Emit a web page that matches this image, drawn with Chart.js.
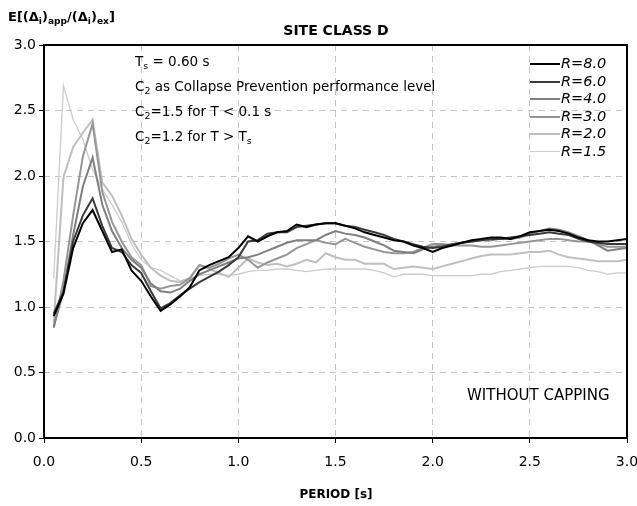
<!DOCTYPE html>
<html><head><meta charset="utf-8">
<script src="https://cdn.jsdelivr.net/npm/chart.js@4"></script>
<style>
html,body{margin:0;padding:0;background:#fff;}
#wrap{position:relative;width:637px;height:506px;font-family:"DejaVu Sans",sans-serif;color:#000;}
canvas{position:absolute;left:0;top:0;}
.ov{position:absolute;white-space:nowrap;line-height:1;}
sub{font-size:70%;vertical-align:-0.3em;line-height:0;}
.b{font-weight:bold;}
#ann div{position:absolute;left:0;white-space:nowrap;font-size:13.5px;}
#leg .row{position:absolute;left:0;height:14px;white-space:nowrap;}
#leg .sw{position:absolute;left:0;top:7px;width:30px;}
#leg .tx{position:absolute;left:31px;top:0;font-style:italic;font-size:14.5px;}
</style></head><body>
<div id="wrap">
<canvas id="c" width="637" height="506"></canvas>
<div class="ov b" style="left:8px;top:10px;font-size:13px;">E[(Δ<sub>i</sub>)<sub>app</sub>/(Δ<sub>i</sub>)<sub>ex</sub>]</div>
<div class="ov b" style="left:0;width:672px;text-align:center;top:23px;font-size:14px;">SITE CLASS D</div>
<div class="ov b" style="left:0;width:672px;text-align:center;top:488px;font-size:12px;">PERIOD [s]</div>
<div class="ov" style="left:467px;top:388px;font-size:15px;">WITHOUT CAPPING</div>
<div id="ann" class="ov" style="left:135px;top:0;">
  <div style="top:55px;">T<sub>s</sub> = 0.60 s</div>
  <div style="top:80px;">C<sub>2</sub> as Collapse Prevention performance level</div>
  <div style="top:105px;">C<sub>2</sub>=1.5 for T &lt; 0.1 s</div>
  <div style="top:130px;">C<sub>2</sub>=1.2 for T &gt; T<sub>s</sub></div>
</div>
<div id="leg" class="ov" style="left:530px;top:0;"></div>
</div>
<script>
const periods = [0.05,0.10,0.15,0.20,0.25,0.30,0.35,0.40,0.45,0.50,0.55,0.60,
 0.65,0.70,0.75,0.80,0.85,0.90,0.95,1.00,1.05,1.10,1.15,1.20,
 1.25,1.30,1.35,1.40,1.45,1.50,1.55,1.60,1.65,1.70,1.75,1.80,
 1.85,1.90,1.95,2.00,2.05,2.10,2.15,2.20,2.25,2.30,2.35,2.40,
 2.45,2.50,2.55,2.60,2.65,2.70,2.75,2.80,2.85,2.90,2.95,3.00];
const seriesNames = ["R=8.0","R=6.0","R=4.0","R=3.0","R=2.0","R=1.5"];
const r80 = [0.93,1.10,1.45,1.64,1.74,1.58,1.42,1.44,1.28,1.20,1.08,0.97,
 1.02,1.08,1.15,1.28,1.32,1.35,1.38,1.45,1.54,1.50,1.54,1.57,
 1.58,1.63,1.61,1.63,1.64,1.64,1.62,1.60,1.57,1.55,1.53,1.51,
 1.50,1.47,1.45,1.42,1.45,1.47,1.49,1.51,1.52,1.53,1.53,1.52,
 1.54,1.57,1.58,1.59,1.58,1.56,1.53,1.51,1.50,1.50,1.51,1.52];
const r60 = [0.95,1.12,1.50,1.70,1.83,1.62,1.45,1.42,1.32,1.26,1.12,0.99,
 1.03,1.09,1.14,1.19,1.23,1.27,1.32,1.38,1.50,1.51,1.56,1.57,
 1.57,1.61,1.62,1.63,1.64,1.64,1.62,1.61,1.59,1.57,1.55,1.52,
 1.50,1.48,1.46,1.45,1.46,1.48,1.49,1.50,1.51,1.52,1.52,1.53,
 1.54,1.55,1.56,1.57,1.56,1.55,1.52,1.50,1.49,1.48,1.48,1.48];
const r40 = [0.85,1.12,1.55,1.92,2.14,1.78,1.58,1.45,1.36,1.30,1.18,1.12,
 1.11,1.14,1.20,1.25,1.28,1.31,1.34,1.37,1.38,1.40,1.43,1.46,
 1.49,1.51,1.51,1.51,1.55,1.58,1.56,1.55,1.53,1.50,1.47,1.43,
 1.42,1.41,1.44,1.46,1.47,1.48,1.49,1.50,1.51,1.51,1.52,1.52,
 1.53,1.56,1.58,1.60,1.59,1.57,1.54,1.51,1.47,1.43,1.44,1.45];
const r30 = [0.84,1.20,1.70,2.15,2.40,1.88,1.65,1.50,1.38,1.32,1.16,1.14,
 1.16,1.17,1.22,1.32,1.30,1.33,1.37,1.40,1.36,1.30,1.34,1.37,
 1.40,1.45,1.48,1.51,1.49,1.48,1.52,1.49,1.46,1.44,1.42,1.41,
 1.41,1.42,1.45,1.48,1.48,1.47,1.47,1.47,1.46,1.46,1.47,1.48,
 1.49,1.50,1.51,1.52,1.52,1.51,1.50,1.50,1.48,1.46,1.46,1.46];
const r20 = [0.88,1.99,2.22,2.33,2.43,1.95,1.85,1.70,1.52,1.40,1.30,1.24,
 1.20,1.19,1.22,1.32,1.29,1.26,1.23,1.30,1.37,1.34,1.32,1.33,
 1.31,1.33,1.36,1.34,1.41,1.38,1.36,1.36,1.33,1.33,1.33,1.29,
 1.30,1.31,1.30,1.29,1.31,1.33,1.35,1.37,1.39,1.40,1.40,1.40,
 1.41,1.42,1.42,1.43,1.40,1.38,1.37,1.36,1.35,1.35,1.35,1.36];
const r15 = [1.22,2.69,2.43,2.28,2.05,1.90,1.78,1.65,1.48,1.36,1.30,1.28,
 1.24,1.20,1.22,1.24,1.25,1.25,1.24,1.25,1.27,1.28,1.28,1.29,
 1.29,1.28,1.27,1.28,1.29,1.29,1.29,1.29,1.29,1.28,1.26,1.23,
 1.25,1.25,1.25,1.24,1.24,1.24,1.24,1.24,1.25,1.25,1.27,1.28,
 1.29,1.30,1.31,1.31,1.31,1.31,1.30,1.28,1.27,1.25,1.26,1.26];
const xTicks = ["0.0","0.5","1.0","1.5","2.0","2.5","3.0"];
const yTicks = ["0.0","0.5","1.0","1.5","2.0","2.5","3.0"];

const values = [r80, r60, r40, r30, r20, r15];
const colors = ["#000000","#3a3a3a","#7f7f7f","#969696","#bfbfbf","#cccccc"];
const widths = [2,2,2,2,2,1.3];

const datasets = values.map((arr, i) => ({
  label: seriesNames[i],
  data: arr.map((v, j) => ({x: periods[j], y: v})),
  borderColor: colors[i],
  borderWidth: widths[i],
  pointRadius: 0,
  tension: 0,
  fill: false
}));

const frame = {
  id: 'frame',
  afterDatasetsDraw(c) {
    const a = c.chartArea, g = c.ctx;
    g.save();
    g.strokeStyle = '#000';
    g.lineWidth = 2;
    g.strokeRect(a.left, a.top, a.right - a.left, a.bottom - a.top);
    g.restore();
  }
};

const tickFont = {family: 'DejaVu Sans', size: 14};
new Chart(document.getElementById('c'), {
  type: 'line',
  data: {datasets},
  options: {
    responsive: false,
    animation: false,
    devicePixelRatio: 1,
    layout: {padding: {top: 45, right: 10, left: 0, bottom: 0}},
    plugins: {legend: {display: false}, tooltip: {enabled: false}},
    scales: {
      x: {
        type: 'linear', min: 0, max: 3,
        ticks: {stepSize: 0.5, color: '#000', font: tickFont, padding: 11, maxRotation: 0,
          callback: (v) => xTicks[Math.round(v * 2)]},
        grid: {color: '#c4c4c4', tickColor: '#000', tickLength: 5, tickBorderDash: [], lineWidth: 1},
        border: {display: false, dash: [6, 5]},
        afterFit: (s) => { s.height = 68; s.paddingRight = 0; s.paddingLeft = 0; }
      },
      y: {
        min: 0, max: 3,
        ticks: {stepSize: 0.5, color: '#000', font: tickFont, padding: 3,
          callback: (v) => yTicks[Math.round(v * 2)]},
        grid: {color: '#c4c4c4', tickColor: '#000', tickLength: 5, tickBorderDash: [], lineWidth: 1},
        border: {display: false, dash: [6, 5]},
        afterFit: (s) => { s.width = 44; s.paddingTop = 0; s.paddingBottom = 0; }
      }
    }
  },
  plugins: [frame]
});

const leg = document.getElementById('leg');
seriesNames.forEach((n, i) => {
  const row = document.createElement('div');
  row.className = 'row';
  row.style.top = (56 + i * 17.6) + 'px';
  const sw = document.createElement('div');
  sw.className = 'sw';
  sw.style.borderTop = widths[i] + 'px solid ' + colors[i];
  const tx = document.createElement('div');
  tx.className = 'tx';
  tx.textContent = n;
  row.appendChild(sw); row.appendChild(tx);
  leg.appendChild(row);
});
</script>
</body></html>
